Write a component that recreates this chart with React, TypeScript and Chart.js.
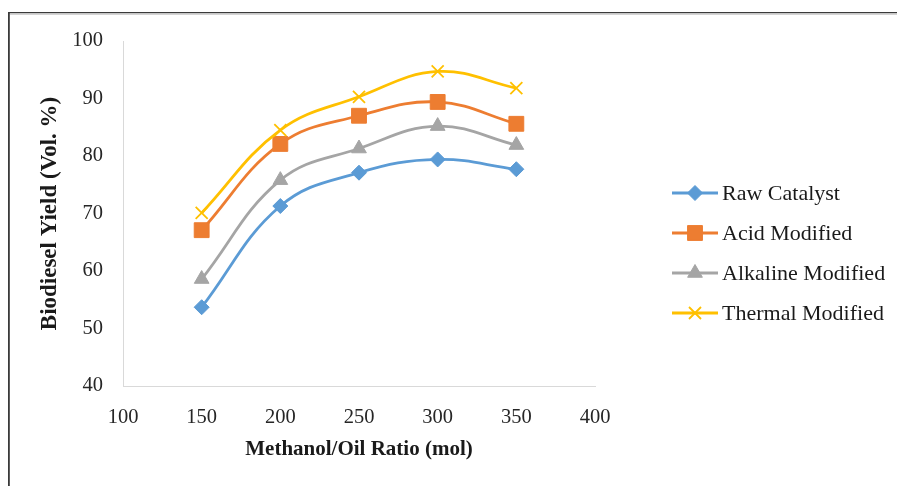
import { useEffect, useRef } from "react";
import { Chart, registerables } from "chart.js";
import { drawPoint } from "chart.js/helpers";

Chart.register(...registerables);

const ratios = [150, 200, 250, 300, 350];
const rawCatalyst = [53.7, 71.3, 77.1, 79.4, 77.7];
const acidModified = [67.1, 82.1, 87.0, 89.4, 85.6];
const alkalineModified = [58.6, 75.8, 81.3, 85.2, 81.9];
const thermalModified = [70.1, 84.5, 90.3, 94.7, 91.8];
const seriesNames = ["Raw Catalyst", "Acid Modified", "Alkaline Modified", "Thermal Modified"];
const xTitle = "Methanol/Oil Ratio (mol)";
const yTitle = "Biodiesel Yield (Vol. %)";

const SERIF = "'Liberation Serif', 'Times New Roman', serif";

export default function App() {
  const ref = useRef<HTMLCanvasElement | null>(null);

  useEffect(() => {
    if (!ref.current) return;
    const series = [rawCatalyst, acidModified, alkalineModified, thermalModified];
    const colors = ["#5B9BD5", "#ED7D31", "#A5A5A5", "#FFC000"];
    const styles = ["rectRot", "rect", "triangle", "crossRot"];
    const radii = [7.5, 10.5, 8.5, 8.5];

    const datasets = series.map((vals, i) => ({
      label: seriesNames[i],
      data: vals.map((v, j) => ({ x: ratios[j], y: v })),
      borderColor: colors[i],
      backgroundColor: colors[i],
      pointBackgroundColor: colors[i],
      pointBorderColor: colors[i],
      pointStyle: styles[i],
      pointRadius: radii[i],
      pointBorderWidth: i === 3 ? 1.8 : 1,
      borderWidth: 2.8,
      tension: 0.4,
      cubicInterpolationMode: "default",
      order: 4 - i,
    }));

    const frame = {
      id: "frame",
      beforeDraw(chart: any) {
        const ctx = chart.ctx;
        ctx.save();
        ctx.fillStyle = "#ffffff";
        ctx.fillRect(0, 0, chart.width, chart.height);
        ctx.fillStyle = "#3a3a3a";
        ctx.fillRect(8, 12, chart.width - 8, 1.4);
        ctx.fillRect(8, 12, 1.8, chart.height - 12);
        ctx.fillStyle = "#d4d4d4";
        ctx.fillRect(10, 13.4, chart.width - 10, 1.6);
        ctx.restore();
      },
    };

    const legendPlugin = {
      id: "customLegend",
      afterDraw(chart: any) {
        const ctx = chart.ctx;
        chart.data.datasets.forEach((ds: any, i: number) => {
          const y = 193 + i * 40;
          ctx.save();
          ctx.strokeStyle = ds.borderColor;
          ctx.lineWidth = 2.8;
          ctx.beginPath();
          ctx.moveTo(672, y);
          ctx.lineTo(718, y);
          ctx.stroke();
          ctx.fillStyle = ds.pointBackgroundColor;
          ctx.strokeStyle = ds.pointBorderColor;
          ctx.lineWidth = ds.pointBorderWidth;
          drawPoint(ctx, { pointStyle: ds.pointStyle, radius: ds.pointRadius, rotation: 0, borderWidth: ds.pointBorderWidth }, 695, y);
          ctx.fillStyle = "#1a1a1a";
          ctx.font = `22px ${SERIF}`;
          ctx.textBaseline = "middle";
          ctx.textAlign = "left";
          ctx.fillText(ds.label, 722, y + 1);
          ctx.restore();
        });
      },
    };

    const chart = new Chart(ref.current, {
      type: "line",
      data: { datasets: datasets as any },
      options: {
        animation: false,
        responsive: false,
        maintainAspectRatio: false,
        layout: { padding: { left: 0, top: 41, right: 302, bottom: 0 } },
        plugins: { legend: { display: false }, tooltip: { enabled: false } },
        scales: {
          x: {
            type: "linear",
            min: 100,
            max: 400,
            afterFit(scale: any) {
              scale.height = 100;
            },
            grid: { display: false, drawTicks: false },
            border: { display: true, color: "#d9d9d9", width: 1 },
            ticks: {
              stepSize: 50,
              padding: 19,
              color: "#262626",
              font: { family: SERIF, size: 20.5 },
            },
            title: {
              display: true,
              text: xTitle,
              color: "#1a1a1a",
              font: { family: SERIF, size: 21, weight: "bold" },
              padding: { top: 0, bottom: 23.4 },
            },
          },
          y: {
            min: 40,
            max: 100,
            afterFit(scale: any) {
              scale.width = 123;
            },
            grid: { display: false, drawTicks: false },
            border: { display: true, color: "#d9d9d9", width: 1 },
            ticks: {
              stepSize: 10,
              padding: 20,
              color: "#262626",
              font: { family: SERIF, size: 20.5 },
            },
            title: {
              display: true,
              text: yTitle,
              color: "#1a1a1a",
              font: { family: SERIF, size: 23, weight: "bold" },
              padding: { top: 36, bottom: 0 },
            },
          },
        },
      },
      plugins: [frame, legendPlugin],
    });
    return () => chart.destroy();
  }, []);

  return (
    <div style={{ position: "absolute", left: 0, top: 0, width: 897, height: 486 }}>
      <canvas ref={ref} width={897} height={486} style={{ display: "block", width: 897, height: 486 }} />
    </div>
  );
}
